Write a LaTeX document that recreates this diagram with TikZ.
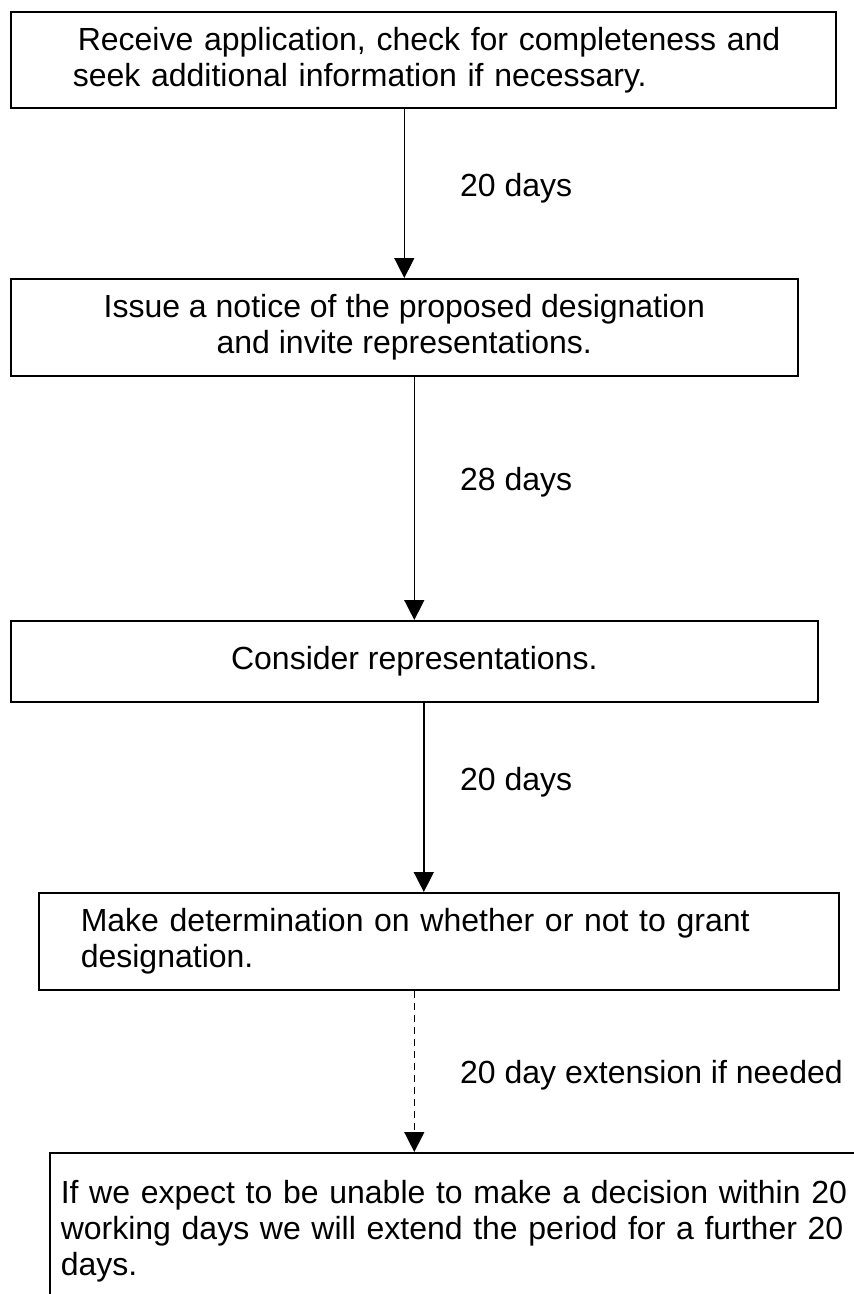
\documentclass[tikz,border=0pt]{standalone}
\usepackage{fontspec}
\setmainfont{Liberation Sans}
\usetikzlibrary{positioning, arrows.meta}
\tikzset{
    stepbox/.style={draw, line width=1.6pt, anchor=north west, inner ysep=0pt},
    flow/.style={line width=1.5pt, -{Triangle[width=20pt,length=20pt]}},
    dayslabel/.style={anchor=west, inner sep=0pt},
  }

\begin{document}
\begin{tikzpicture}[x=1pt, y=-1pt, font=\fontsize{32}{36}\selectfont]
	\useasboundingbox (0,0) rectangle (854,1294);

	% the five steps
	\node[stepbox, minimum width=825pt, minimum height=96pt, inner xsep=62pt, text width=701pt, align=left] (receive) at (10,11)
		{\mbox{\hspace*{5pt}Receive application, check for completeness and}\\seek additional information if necessary.};
	\node[stepbox, minimum width=787pt, minimum height=97pt, align=center] (notice) at (10,278)
		{Issue a notice of the proposed designation\\and invite representations.};
	\node[stepbox, minimum width=807pt, minimum height=81pt, align=center] (consider) at (10,620)
		{Consider representations.};
	\node[stepbox, minimum width=800pt, minimum height=97pt, inner xsep=42pt, text width=716pt, align=left] (determine) at (38,892)
		{Make determination on whether or not to grant\\designation.};
	\node[stepbox, minimum width=900pt, minimum height=156pt, inner xsep=11pt, text width=878pt, align=left] (extend) at (49,1152)
		{If we expect to be unable to make a decision within 20\\working days we will extend the period for a further 20\\days.};

	% arrows between steps
	\draw[flow] (receive.south -| notice.north) -- (notice.north);
	\draw[flow] (notice.south -| consider.north) -- (consider.north);
	\draw[flow] ([xshift=-15pt]determine.north |- consider.south) -- ([xshift=-15pt]determine.north);
	\draw[flow, dash pattern=on 7pt off 5pt] (determine.south -| consider.north) -- (extend.north -| consider.north);

	% time limits
	\node[dayslabel] (first) at (460,188) {20 days};
	\node[dayslabel] (second) at (460,482) {28 days};
	\node[dayslabel] (third) at (460,782) {20 days};
	\node[dayslabel] (fourth) at (460,1075) {20 day extension if needed};
\end{tikzpicture}
\end{document}
